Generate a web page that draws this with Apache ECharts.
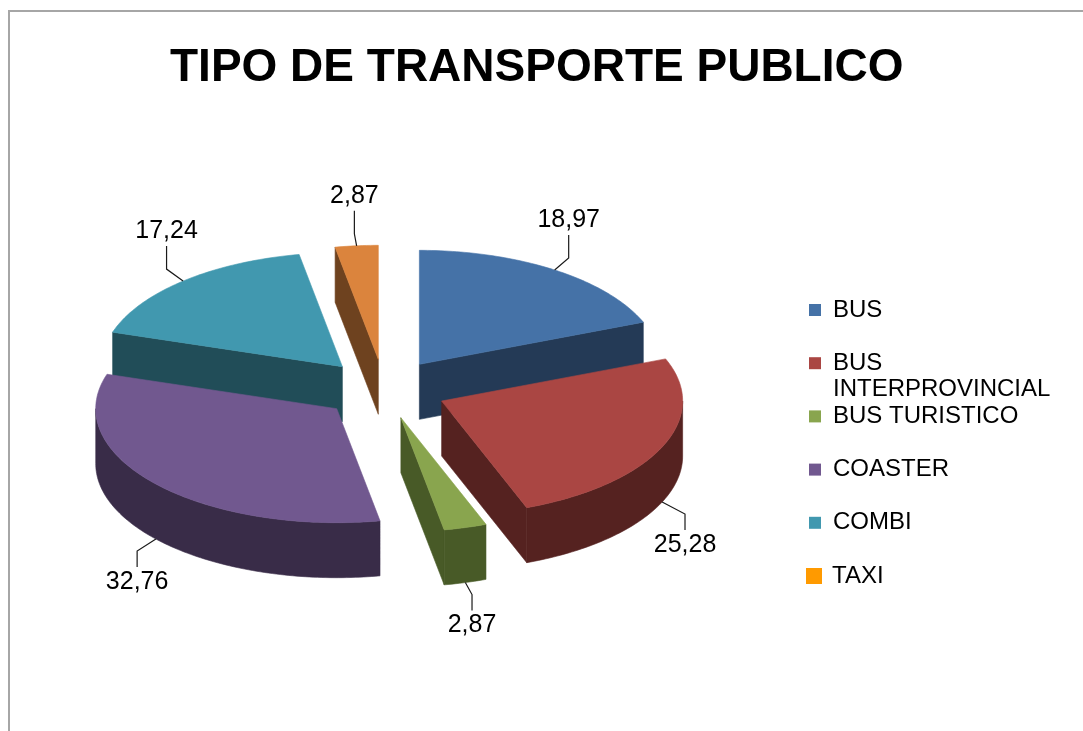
<!DOCTYPE html>
<html>
<head>
<meta charset="utf-8">
<script src="https://cdn.jsdelivr.net/npm/echarts@6/dist/echarts.min.js"></script>
<style>
  html, body { margin: 0; padding: 0; background: #fff; }
  #main { width: 1083px; height: 731px; }
</style>
</head>
<body>
<div id="main"></div>
<script>
// ---------- data ----------
const categories = ['BUS', 'BUS INTERPROVINCIAL', 'BUS TURISTICO', 'COASTER', 'COMBI', 'TAXI'];
const values = [18.97, 25.28, 2.87, 32.76, 17.24, 2.87];
const chartTitle = 'TIPO DE TRANSPORTE PUBLICO';

// ---------- styles ----------
const topColors = ['#4572A7', '#AA4643', '#89A54E', '#71588F', '#4198AF', '#DB843D'];
const sideColors = ['#243A56', '#552220', '#485A27', '#392C48', '#214D58', '#6E421F'];
const legendColors = ['#4572A7', '#AA4643', '#89A54E', '#71588F', '#4198AF', '#FF9A00'];

// ---------- layout of the 3D pie ----------
const CX = 384, CY = 389;      // pie centre (top face)
const RX = 241, RY = 114;      // ellipse radii of the top face
const DEPTH = 55;              // thickness
const EXPLODE = 63;            // explosion distance (in x-radius units)
const FONT = 'Liberation Sans, Arial, sans-serif';

const total = values.reduce((a, b) => a + b, 0);

function fmt(v) { return v.toFixed(2).replace('.', ','); }

function makeRenderItem(i) {
  return function (params, api) {
    const v = api.value(0);
    const before = values.slice(0, i).reduce((a, b) => a + b, 0);
    const a0 = before / total * 2 * Math.PI;
    const a1 = (before + v) / total * 2 * Math.PI;
    const mid = (a0 + a1) / 2;
    const ox = CX + EXPLODE * Math.sin(mid);
    const oy = CY - EXPLODE * (RY / RX) * Math.cos(mid);
    const pt = (t, dz) => [ox + RX * Math.sin(t), oy - RY * Math.cos(t) + dz];
    const arc = (s, e, dz) => {
      const n = Math.max(2, Math.ceil((e - s) / (Math.PI / 180)));
      const pts = [];
      for (let k = 0; k <= n; k++) pts.push(pt(s + (e - s) * k / n, dz));
      return pts;
    };
    const poly = (points, color, z2) => ({
      type: 'polygon', z2: z2,
      shape: { points: points },
      style: { fill: color, stroke: color, lineWidth: 0.6 }
    });
    const children = [];
    const side = sideColors[i];
    const sideZ = Math.round(oy);
    // radial cut faces
    if (Math.sin(a0) < -1e-6) {
      children.push(poly([[ox, oy], pt(a0, 0), pt(a0, DEPTH), [ox, oy + DEPTH]], side, sideZ));
    }
    if (Math.sin(a1) > 1e-6) {
      children.push(poly([[ox, oy], pt(a1, 0), pt(a1, DEPTH), [ox, oy + DEPTH]], side, sideZ));
    }
    // outer wall (front half only)
    const ws = Math.max(a0, Math.PI / 2), we = Math.min(a1, 3 * Math.PI / 2);
    if (we > ws) {
      const topArc = arc(ws, we, 0);
      const botArc = arc(ws, we, DEPTH).reverse();
      children.push(poly(topArc.concat(botArc), side, sideZ + 1));
    }
    // top face
    children.push(poly([[ox, oy]].concat(arc(a0, a1, 0)), topColors[i], 1000));

    // value label with leader line
    const back = Math.cos(mid) > 0;
    const anchor = back ? pt(mid, 0) : pt(mid, DEPTH);
    const lx = anchor[0] + 25 * Math.sin(mid);
    const ly = back ? anchor[1] - 50 : anchor[1] + 43;
    const dir = back ? -1 : 1;
    children.push({
      type: 'polyline', z2: 1500,
      shape: { points: [anchor, [lx, anchor[1] + dir * 12], [lx, ly - dir * 15]] },
      style: { stroke: '#1a1a1a', fill: null, lineWidth: 1.2 }
    });
    children.push({
      type: 'text', z2: 1600,
      style: {
        text: fmt(v), x: lx, y: ly,
        fill: '#000', fontSize: 25, fontFamily: FONT,
        align: 'center', verticalAlign: 'middle'
      }
    });
    return { type: 'group', children: children };
  };
}

// ---------- legends (one per category, stacked) ----------
const LEGEND_FIRST = 310, LEGEND_STEP = 53.2, LEGEND_LH = 26;
function legendText(name) {
  return name.length > 15 ? ' \n' + name.replace(' ', '\n') : name;
}
const legends = categories.map((name, i) => {
  const lines = legendText(name).split('\n').length;
  const big = i === categories.length - 1;
  return {
    data: [{ name: name, itemStyle: { color: legendColors[i] } }],
    orient: 'vertical',
    left: big ? 806 : 809,
    top: LEGEND_FIRST + i * LEGEND_STEP - lines * LEGEND_LH / 2,
    padding: 0,
    icon: 'rect',
    itemWidth: big ? 16 : 12,
    itemHeight: big ? 16 : 12,
    selectedMode: false,
    formatter: legendText,
    textStyle: {
      color: '#000', fontSize: 24, fontFamily: FONT,
      lineHeight: LEGEND_LH, padding: [0, 0, 0, big ? 5 : 7]
    }
  };
});

const chart = echarts.init(document.getElementById('main'), null, { renderer: 'canvas' });
chart.setOption({
  animation: false,
  backgroundColor: '#ffffff',
  title: {
    text: chartTitle,
    left: 170,
    top: 42,
    padding: 0,
    textStyle: { color: '#000', fontSize: 46, fontWeight: 'bold', fontFamily: FONT, lineHeight: 52 }
  },
  legend: legends,
  graphic: [{
    type: 'rect', z: -10, silent: true,
    shape: { x: 9, y: 11, width: 1100, height: 800 },
    style: { fill: 'transparent', stroke: '#A6A6A6', lineWidth: 2 }
  }],
  series: categories.map((name, i) => ({
    type: 'custom',
    name: name,
    coordinateSystem: 'none',
    itemStyle: { color: topColors[i] },
    data: [[values[i]]],
    renderItem: makeRenderItem(i)
  }))
});
</script>
</body>
</html>
